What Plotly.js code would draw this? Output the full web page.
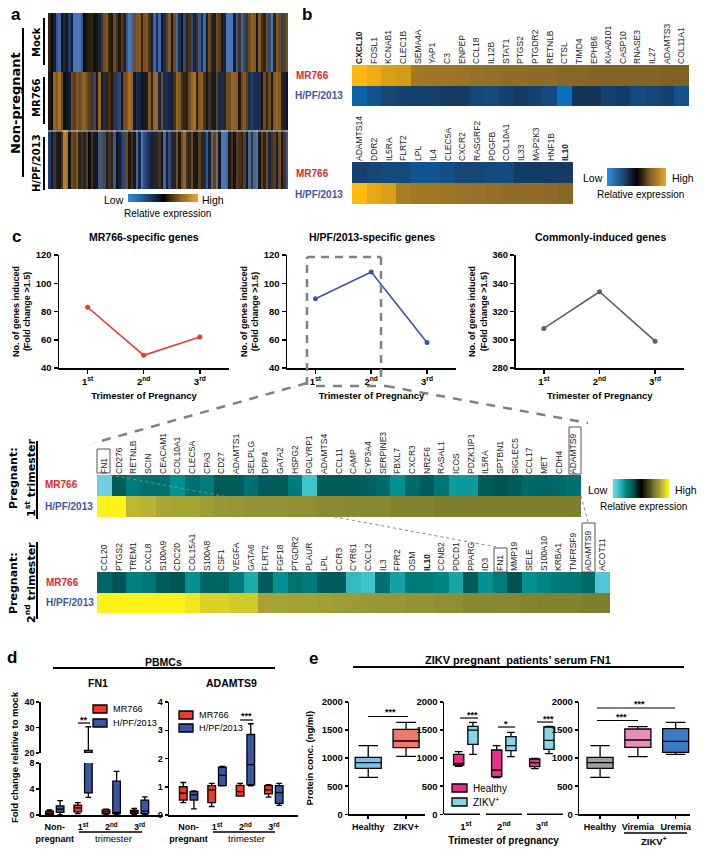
<!DOCTYPE html>
<html><head><meta charset="utf-8">
<script src="https://cdn.plot.ly/plotly-3.0.1.min.js"></script>
<style>html,body{margin:0;padding:0;background:#fff}#c{width:704px;height:852px}</style></head>
<body><div id="c"></div>
<script>
// ---------- DATA ----------
const heatARows = ['Mock','MR766','H/PF/2013'];
const heatAMock = [.2,0,-.3,-.8,-.9,-.2,-.4,.1,-.6,-.3,-1,-1,-1,-.8,0,.1,.15,.2,-.1,.1,-.4,.3,.5,.6,.2,.1,.5,.3,.1,.4,.2,-.8,
 -1,-.9,.5,.6,.6,.2,.55,.6,.3,-.3,-.9,-.5,-.9,-.2,-.5,.4,.6,.1,.5,-.9,-.5,.1,-.7,.2,.3,-.7,-.4,.3,-.8,-.5,-.9,-.3,
 .5,.2,-.3,.5,.4,.1,-.4,-1,-1,-1,-.3,-.8,.3,-.9,-.7,.3,.5,.7,.6,-.2,.6,.3,.2,.5,-.7,-1,.2,.6,.5,-.6,.4,.5];
const heatAMr766 = [.1,0,.7,.6,.8,.5,-.1,-.2,-.3,.5,.4,.6,.5,.6,.7,.5,.4,.3,-.7,.1,.7,.1,-.5,.2,.3,-.2,.3,-.6,-.7,.1,.5,.6,
 .8,.7,-.2,-.5,-.4,-.2,.1,-.3,.6,.2,.7,.7,-.4,.5,-.5,-.5,-.4,-.3,.3,.7,.6,.3,.2,.15,.5,.7,.8,.2,.6,.7,.3,-.2,
 .3,-.3,.1,.4,-.4,-.5,.2,.5,.5,.7,.7,.6,.1,.5,.6,.4,-.5,-.6,-.5,-.5,-.5,.1,.5,.2,.5,.1,.6,.7,.6,.2,-.3,-.2];
const heatAHpf = [-.6,-.2,.3,-.3,.1,.3,.9,.8,-.1,.5,.4,.6,.2,.3,-.4,.4,0,.3,-.2,.1,-.8,.5,-.7,-.3,.3,.2,-.8,-.1,-.3,-.6,-.7,.5,
 .1,.3,.1,-.9,-.4,-1,-.7,-.6,-.5,-.3,.2,-.4,.3,-.2,-.9,-.3,-.7,.2,-.4,.5,.1,.5,.7,.3,.2,.5,.1,-.2,.4,.2,-.5,-.8,
 -.3,.6,-.7,.7,-.2,-1,-1,-.9,.1,.3,-.1,.4,.3,.2,.4,-.2,-.9,.3,-.9,-1,.1,.4,.2,.5,-.4,.3,.4,-.3,.5,.1,.3,-.8];
const heatAColumns = heatAMock.map((_, i) => i);

const genesB1 = ['<b>CXCL10</b>','FOSL1','KCNAB1','CLEC1B','SEMA4A','YAP1','C3','ENPEP','CCL18','IL12B','STAT1','PTGS2','PTGDR2','RETNLB','CTSL','TIMD4','EPHB6','KIAA0101','CASP10','RNASE3','IL27','ADAMTS3','COL11A1'];
const b1Mr766 = [1,.93,.85,.82,.62,.6,.6,.58,.57,.56,.55,.55,.54,.54,.52,.52,.5,.5,.5,.5,.5,.48,.48];
const b1Hpf = [-.85,-.7,-.55,-.5,-.5,-.5,-.45,-.45,-.55,-.6,-.5,-.45,-.5,-.6,-1,-.4,-.4,-.5,-.45,-.6,-.55,-.5,-.7];
const genesB2 = ['ADAMTS14','DDR2','IL5RA','FLRT2','LPL','IL4','CLEC5A','CXCR2','RASGRF2','PDGFB','COL10A1','IL33','MAP2K3','HNF1B','<b>IL10</b>'];
const b2Mr766 = [-.5,-.55,-.6,-.6,-.7,-.7,-.65,-.55,-.55,-.6,-.6,-.45,-.45,-.45,-.45];
const b2Hpf = [1,.9,.85,.65,.62,.62,.6,.58,.57,.56,.55,.55,.55,.54,.52];

const trimesters = ['1<sup>st</sup>','2<sup>nd</sup>','3<sup>rd</sup>'];
const genesInducedMr766 = [83,49,62];
const genesInducedHpf = [89,108,58];
const genesInducedCommon = [308,334,299];

const genesT1 = ['FN1','CD276','RETNLB','SCIN','CEACAM1','COL10A1','CLEC5A','CPA3','CD27','ADAMTS1','SELPLG','DPP4','GATA2','HSPG2','PGLYRP1','ADAMTS4','CCL11','CAMP','CYP3A4','SERPINE3','FBXL7','CXCR3','NR2F6','RASAL1','ICOS','PDZK1IP1','IL5RA','SPTBN1','SIGLEC5','CCL17','MET','CDH4','ADAMTS9'];
const t1Mr766 = [-1,-.35,-.5,-.45,-.45,-.6,-.45,-.5,-.35,-.35,-.45,-.35,-.35,-.5,-.85,-.35,-.35,-.35,-.38,-.42,-.6,-.42,-.35,-.48,-.65,-.65,-.35,-.32,-.35,-.42,-.4,-.42,-.45];
const t1Hpf = [1,1,.78,.76,.7,.68,.68,.65,.63,.62,.6,.6,.6,.58,.58,.56,.56,.55,.55,.55,.52,.52,.52,.5,.5,.5,.5,.5,.5,.5,.5,.5,.5];
const genesT2 = ['CCL20','PTGS2','TREM1','CXCL8','S100A9','CDC20','COL15A1','S100A8','CSF1','VEGFA','GATA6','FLRT2','FGF18','PTGDR2','PLAUR','LPL','CCR3','CYR61','CXCL2','IL3','FPR2','OSM','<b>IL10</b>','CCNB2','PDCD1','PPARG','ID3','FN1','MMP19','SELE','S100A10','KRBA1','TNFRSF9','ADAMTS9','ACOT11'];
const t2Mr766 = [-.4,-.32,-.52,-.48,-.35,-.32,-.6,-.4,-.4,-.5,-.72,-.35,-.6,-.45,-.5,-.35,-.35,-.8,-.85,-.45,-.68,-.5,-.5,-.55,-.7,-.35,-.6,-.5,-.3,-.6,-.55,-.5,-.48,-.42,-.9];
const t2Hpf = [1,1,1,1,1,1,.95,.88,.88,.85,.85,.68,.68,.67,.67,.66,.65,.64,.63,.62,.62,.6,.6,.58,.58,.55,.55,.54,.54,.53,.52,.52,.52,.5,.5];
const heatRows = ['H/PF/2013','MR766'];
const rampValues = [-1,-.9,-.8,-.7,-.6,-.5,-.4,-.3,-.2,-.1,0,.1,.2,.3,.4,.5,.6,.7,.8,.9,1];

const groupsD = ['Non-<br>pregnant','1<sup>st</sup>','2<sup>nd</sup>','3<sup>rd</sup>'];
// each entry: [lower whisker, Q1, median, Q3, upper whisker]
const fn1Mr766 = [[0,.1,.3,.6,.8],[.2,.5,1.1,1.5,1.9],[.1,.2,.5,.8,.9],[.1,.25,.5,.7,1]];
const fn1Hpf = [[0,.4,.9,1.4,2.2],[2.7,3.4,20,21,30.3],[0,.2,.4,5.2,6.7],[0,.2,.6,2.3,2.8]];
const adamts9Mr766 = [[.44,.53,.77,1,1.15],[.3,.44,.89,1.04,1.12],[.67,.67,.83,1.05,1.12],[.63,.75,.89,1.04,1.07]];
const adamts9Hpf = [[.22,.53,.71,.83,.85],[1.03,1.04,1.4,1.69,1.72],[1.03,1.07,1.78,2.85,3.23],[.34,.41,.79,1.04,1.12]];

const serumHealthy = [659,819,920,1015,1222];
const serumZikv = [1032,1187,1305,1513,1638];
const serumViremia = [1027,1193,1323,1519,1560];
const serumUremia = [1068,1104,1300,1525,1638];
const serumTriHealthy = [[855,878,908,1068,1115],[653,670,789,1145,1222],[813,849,920,985,997]];
const serumTriZikv = [[1068,1246,1500,1567,1638],[1027,1133,1222,1383,1460],[1080,1157,1317,1555,1567]];
const groupsE1 = ['Healthy','ZIKV+'];
const groupsE3 = ['Healthy','Viremia','Uremia'];

// ---------- HELPERS ----------
const W = 704, H = 852;
const SANS = 'Liberation Sans, Arial, sans-serif';
const WIDE = 'DejaVu Sans, Verdana, sans-serif';
const RED = '#e5262b', BLUE = '#3f55a6';
const traces = [], shapes = [], annotations = [];
const layout = {width:W,height:H,margin:{l:0,r:0,t:0,b:0},paper_bgcolor:'#fff',plot_bgcolor:'rgba(0,0,0,0)',
  showlegend:false,boxmode:'group',boxgap:.25,boxgroupgap:.28,font:{family:SANS,color:'#000'},shapes,annotations};
let n = 0;
const base = {showgrid:false,zeroline:false,fixedrange:true};
const hidden = {visible:false};
function axes(xr, yr, xo, yo){
  n++; const s = n === 1 ? '' : n;
  layout['xaxis'+s] = Object.assign({},base,{domain:[xr[0]/W,xr[1]/W],anchor:'y'+s},xo);
  layout['yaxis'+s] = Object.assign({},base,{domain:[1-yr[1]/H,1-yr[0]/H],anchor:'x'+s},yo);
  return {xaxis:'x'+s,yaxis:'y'+s};
}
function T(text,x,y,o){
  o = o || {};
  annotations.push({text,x:x/W,y:1-y/H,xref:'paper',yref:'paper',showarrow:false,
    xanchor:o.anchor||'center',yanchor:'middle',textangle:o.angle||0,
    font:{family:o.family||SANS,size:o.size||10,color:o.color||'#000'},align:'center',borderpad:0});
}
function L(x0,y0,x1,y1,color,width,dash){
  shapes.push({type:'line',xref:'paper',yref:'paper',x0:x0/W,x1:x1/W,y0:1-y0/H,y1:1-y1/H,
    line:{color:color||'#000',width:width||1.5,dash:dash||'solid'}});
}
function R(x0,y0,x1,y1,fill,lw,lc){
  shapes.push({type:'rect',xref:'paper',yref:'paper',x0:x0/W,x1:x1/W,y0:1-y0/H,y1:1-y1/H,
    fillcolor:fill||'rgba(0,0,0,0)',line:{color:lc||'#000',width:lw===undefined?1:lw}});
}
const csA = [[0,'#4a76b8'],[.25,'#1a2d52'],[.5,'#0a0a0a'],[.75,'#6e4c22'],[1,'#d08a2c']];
const csAbar = [[0,'#2f86d0'],[.25,'#1c4a78'],[.5,'#050505'],[.75,'#8a6228'],[1,'#e8a030']];
const csB = [[0,'#0a70c0'],[.25,'#16416e'],[.5,'#050505'],[.78,'#937029'],[1,'#ffb90f']];
const csC = [[0,'#74cce4'],[.075,'#3ec4cc'],[.2,'#009090'],[.35,'#005050'],[.5,'#000'],[.75,'#7e7e30'],[.875,'#b4b038'],[1,'#fff21a']];
function ramp(xr,yr,cs){
  traces.push(Object.assign({type:'heatmap',z:[rampValues],zmin:-1,zmax:1,colorscale:cs,showscale:false,zsmooth:'best',hoverinfo:'skip'},
    axes(xr,yr,hidden,hidden)));
}
function geneHeat(xr,yr,genes,top,bottom,cs){
  traces.push(Object.assign({type:'heatmap',x:genes.map((g,i)=>i),y:heatRows,z:[bottom,top],zmin:-1,zmax:1,colorscale:cs,showscale:false},
    axes(xr,yr,{side:'top',tickmode:'array',tickvals:genes.map((g,i)=>i),ticktext:genes,tickangle:-90,ticks:'',
      tickfont:{size:8.5,family:SANS,color:'#222'},range:[-.5,genes.length-.5],showline:false},
      {visible:false,type:'category'})));
}
function box(ax,xs,stats,fill,o){
  o = o || {};
  const t = Object.assign({type:'box',x:xs,lowerfence:stats.map(s=>s[0]),q1:stats.map(s=>s[1]),median:stats.map(s=>s[2]),
    q3:stats.map(s=>s[3]),upperfence:stats.map(s=>s[4]),fillcolor:fill,line:{color:o.lc||'#000',width:o.lw||1.3},
    whiskerwidth:.75,boxpoints:false,offsetgroup:o.group,alignmentgroup:o.align,hoverinfo:'skip'},ax);
  if(o.width) t.width = o.width;
  traces.push(t);
}
const axisLine = {showline:true,linecolor:'#000',linewidth:1.5,ticks:'outside',ticklen:4,tickwidth:1.5,tickcolor:'#000'};
const smallTicks = Object.assign({},axisLine,{ticklen:3});
const boldTick = {family:'Liberation Sans',size:9.5,color:'#000',weight:'bold'};
const boldTickD = {family:'Liberation Sans',size:9,color:'#000',weight:'bold'};

// ---------- PANEL A ----------
traces.push(Object.assign({type:'heatmap',x:heatAColumns,y:heatARows,z:[heatAMock,heatAMr766,heatAHpf],zmin:-1,zmax:1,colorscale:csA,showscale:false},
  axes([48,288],[13,189],hidden,{visible:false,autorange:'reversed',type:'category'})));
L(48,131,288,131,'#d8d8d8',1);
ramp([128,198],[194,202],csAbar);
T('<b>a</b>',16,14,{size:17});
T('<b>Non-pregnant</b>',15,103,{angle:-90,size:13,family:WIDE});
T('<b>Mock</b>',36,42,{angle:-90,size:10,family:WIDE});
T('<b>MR766</b>',36,98,{angle:-90,size:10,family:WIDE});
T('<b>H/PF/2013</b>',36,163,{angle:-90,size:10,family:WIDE});
L(23,28,23,177,'#000',2); L(44,18,44,65,'#000',2); L(44,77,44,124,'#000',2); L(44,137,44,190,'#000',2);
T('Low',114,200,{size:10.5}); T('High',213,200,{size:10.5}); T('Relative expression',167,213,{size:10});

// ---------- PANEL B ----------
T('<b>b</b>',307,15,{size:17});
geneHeat([352,689],[65,106],genesB1,b1Mr766,b1Hpf,csB);
geneHeat([352,573],[162,204],genesB2,b2Mr766,b2Hpf,csB);
T('<b>MR766</b>',295,75,{anchor:'left',color:RED,size:10});
T('<b>H/PF/2013</b>',294,95,{anchor:'left',color:BLUE,size:10});
T('<b>MR766</b>',295,173,{anchor:'left',color:RED,size:10});
T('<b>H/PF/2013</b>',294,194,{anchor:'left',color:BLUE,size:10});
ramp([607,666],[168,186],csAbar);
T('Low',593,178,{size:10.5}); T('High',683,178,{size:10.5}); T('Relative expression',640,194,{size:10});

// ---------- PANEL C ----------
T('<b>c</b>',16,236,{size:17});
function linePanel(xr,vals,color,range,dtick,title,cx){
  const yt = {text:'<b>No. of genes induced<br>(Fold change &gt;1.5)</b>',font:{size:9,family:SANS},standoff:3};
  const xt = {text:'<b>Trimester of Pregnancy</b>',font:{size:9.5,family:SANS},standoff:6};
  traces.push(Object.assign({type:'scatter',mode:'lines+markers',x:trimesters,y:vals,line:{color,width:1.6},marker:{color,size:5}},
    axes(xr,[255,368],Object.assign({},axisLine,{type:'category',range:[-.51,2.52],tickangle:0,tickfont:boldTick,title:xt}),
      Object.assign({},axisLine,{range,dtick,tickfont:boldTick,title:yt}))));
  T('<b>'+title+'</b>',cx,237,{size:10.5});
}
linePanel([59,229],genesInducedMr766,'#ea3a2a',[40,120],20,'MR766-specific genes',144);
linePanel([287,456],genesInducedHpf,'#3c55a5',[40,120],20,'H/PF/2013-specific genes',372);
linePanel([515.5,684],genesInducedCommon,'#5f5f5f',[280,360],20,'Commonly-induced genes',600);

const DG = '#808080';
L(307,385,307,257,DG,2.5,'8px,6px'); L(307,257,381,257,DG,2.5,'8px,6px'); L(381,257,381,378,DG,2.5,'8px,6px');
L(307,383,94,443,DG,2.5,'9px,8px'); L(316,386,386,386,DG,2.5,'9px,8px'); L(386,386,588,423,DG,2.5,'9px,8px');

// ---------- PREGNANT HEATMAPS ----------
geneHeat([97,581],[475,517],genesT1,t1Mr766,t1Hpf,csC);
geneHeat([97,610],[572,613],genesT2,t2Mr766,t2Hpf,csC);
T('<b>MR766</b>',44,485,{anchor:'left',color:RED,size:10});
T('<b>H/PF/2013</b>',44,506,{anchor:'left',color:BLUE,size:10});
T('<b>MR766</b>',45,582,{anchor:'left',color:RED,size:10});
T('<b>H/PF/2013</b>',45,602,{anchor:'left',color:BLUE,size:10});
T('<b>Pregnant:</b>',13,478,{angle:-90,size:11,family:WIDE});
T('<b>1<sup>st</sup> trimester</b>',30,478,{angle:-90,size:11,family:WIDE});
T('<b>Pregnant:</b>',13,583,{angle:-90,size:11,family:WIDE});
T('<b>2<sup>nd</sup> trimester</b>',30,582,{angle:-90,size:11,family:WIDE});
L(37,441,37,519,'#000',2); L(37,542,37,619,'#000',2);
ramp([612.5,669],[479,498],csC);
T('Low',598,490,{size:10.5}); T('High',686,490,{size:10.5}); T('Relative expression',643,506,{size:10});
R(97,449,110,473,null,1,'#555'); R(569,427,581,474,null,1,'#555');
R(494,548,507,572,null,1,'#555'); R(582,523,595,572,null,1,'#555');
L(110,475,496,547,'#888',1,'dot'); L(581,496,588,522,'#888',1,'dot');

// ---------- PANEL D ----------
T('<b>d</b>',12,657,{size:17});
T('<b>PBMCs</b>',163,662,{size:10.5}); L(53,668,275,668,'#000',2);
T('<b>FN1</b>',98,683,{size:10.5}); T('<b>ADAMTS9</b>',231,683,{size:10.5});
T('<b>Fold change relative to mock</b>',14,757,{angle:-90,size:9.5});
const hiddenTicks = {ticks:'outside',ticklen:3,tickcolor:'rgba(0,0,0,0)'};
const xD1 = Object.assign({},axisLine,hiddenTicks,{type:'category',range:[-.5,3.83],tickangle:0,tickfont:boldTickD});
const lowAx = axes([40.7,163],[763,815],xD1,Object.assign({},smallTicks,{range:[0,8],tickvals:[0,4,8],tickfont:boldTickD}));
box(lowAx,groupsD,fn1Mr766,'#ec3a2c',{group:'a'}); box(lowAx,groupsD,fn1Hpf,'#3a55a5',{group:'b'});
const upAx = axes([40.7,163],[702,753],{visible:false,type:'category',range:[-.5,3.83]},Object.assign({},smallTicks,{range:[20,40],tickvals:[20,30,40],tickfont:boldTickD}));
box(upAx,groupsD,fn1Mr766,'#ec3a2c',{group:'a'}); box(upAx,groupsD,fn1Hpf,'#3a55a5',{group:'b'});
const adamAx = axes([169,298],[702,815],Object.assign({},axisLine,hiddenTicks,{type:'category',range:[-.69,3.85],tickangle:0,tickfont:boldTickD}),
  Object.assign({},smallTicks,{range:[0,4],dtick:1,tickfont:boldTickD}));
box(adamAx,groupsD,adamts9Mr766,'#ec3a2c',{group:'a'}); box(adamAx,groupsD,adamts9Hpf,'#3a55a5',{group:'b'});
L(79,832,142,832,'#000',1.3); T('trimester',113,838,{size:9.5});
L(213,832,275,832,'#000',1.3); T('trimester',246,838,{size:9.5});
function legendD(x,y1,y2){
  R(x,y1,x+14,y1+8,'#ec3a2c',1.3); R(x,y2,x+14,y2+8,'#3a55a5',1.3);
  T('MR766',x+19,y1+4,{anchor:'left',size:9.2}); T('H/PF/2013',x+19,y2+4,{anchor:'left',size:9.2});
}
legendD(93,705,719); legendD(179,711,724);
L(78,723,90,723,'#000',1.2); T('<b>**</b>',83.5,720,{size:9});
L(240,720,253,720,'#000',1.2); T('<b>***</b>',246,716,{size:9});

// ---------- PANEL E ----------
T('<b>e</b>',313,658,{size:17});
T('<b>ZIKV pregnant  patients’ serum FN1</b>',518,660,{size:11});
L(353,667,684,667,'#000',2);
const serumY = Object.assign({},smallTicks,{range:[0,2000],dtick:500,tickfont:boldTick});
const e1 = axes([349.3,425],[702,814.3],Object.assign({},smallTicks,{type:'category',range:[-.5,1.5],tickangle:0,tickfont:boldTickD}),
  Object.assign({},serumY,{title:{text:'<b>Protein conc. (ng/ml)</b>',font:{size:9.5,family:SANS},standoff:6}}));
box(e1,[groupsE1[0]],[serumHealthy],'#6ec6f0',{group:'a',width:.69});
box(e1,[groupsE1[1]],[serumZikv],'#f0776e',{group:'a',width:.69});
const e2 = axes([444,563.3],[702,814.3],Object.assign({},hiddenTicks,{visible:true,showline:false,type:'category',range:[-.574,2.565],tickangle:0,tickfont:boldTick,
  title:{text:'<b>Trimester of pregnancy</b>',font:{size:10,family:SANS},standoff:6}}),serumY);
box(e2,trimesters,serumTriHealthy,'#e8308a',{group:'a'}); box(e2,trimesters,serumTriZikv,'#85d4e8',{group:'b'});
L(444,814.3,480,814.3); L(486,814.3,522,814.3); L(527,814.3,563,814.3);
const e3 = axes([579.3,690],[702,814.3],Object.assign({},smallTicks,{type:'category',range:[-.55,2.38],tickangle:0,tickfont:boldTickD}),serumY);
box(e3,[groupsE3[0]],[serumHealthy],'#a0a0a0',{group:'a',width:.69});
box(e3,[groupsE3[1]],[serumViremia],'#ea8cbc',{group:'a',width:.69});
box(e3,[groupsE3[2]],[serumUremia],'#3b7cc4',{group:'a',width:.69});
function sig(x0,x1,y,sx,sy,s){ L(x0,y,x1,y,'#000',1.2); T('<b>'+s+'</b>',sx,sy,{size:9}); }
sig(368,408,716.5,390,712,'***');
sig(460,478,718,472,715,'***'); sig(498,515,727,506,724,'*'); sig(537,553,722,548,719,'***');
sig(597,675,708,639,704,'***'); sig(597,638,720.5,621,717,'***');
R(452,784,467,792,'#e8308a',1.3); R(452,798,467,806,'#85d4e8',1.3);
T('Healthy',472,788,{anchor:'left',size:10}); T('ZIKV<sup>+</sup>',472,802,{anchor:'left',size:10});
L(624,833,687,833,'#000',1.3); T('<b>ZIKV<sup>+</sup></b>',654,841,{size:9.5});

Plotly.newPlot('c',traces,layout,{displayModeBar:false,staticPlot:true});
</script></body></html>
